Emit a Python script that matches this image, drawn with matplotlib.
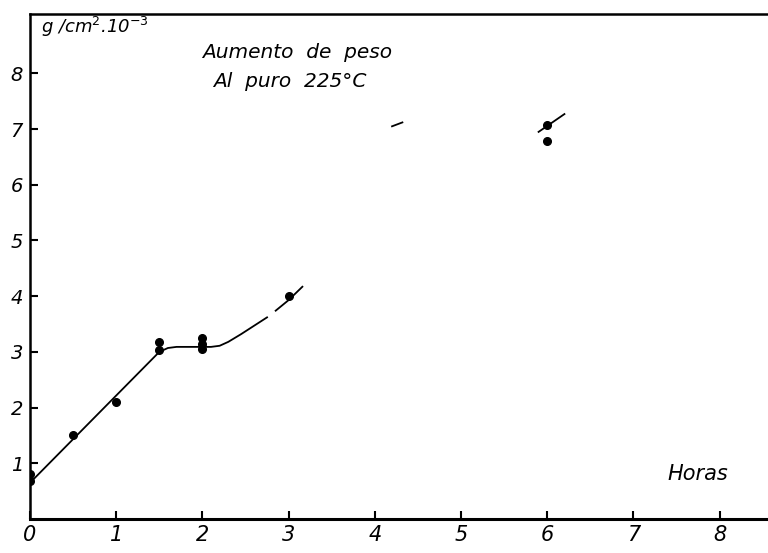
import matplotlib
matplotlib.use("Agg")
import matplotlib.pyplot as plt

# measured points (hours, g/cm2 x 10^-3)
horas = [0, 0, 0.5, 1, 1.5, 1.5, 2, 2, 2, 3, 6, 6]
peso = [0.68, 0.8, 1.5, 2.1, 3.17, 3.04, 3.25, 3.15, 3.05, 4.0, 7.07, 6.79]

# hand drawn curve
curva_x = [0, 1.5, 1.6, 1.7, 1.9, 2.1, 2.2, 2.3, 2.45, 2.75]
curva_y = [0.65, 3.0, 3.07, 3.09, 3.09, 3.09, 3.11, 3.18, 3.32, 3.62]
curva2_x = [2.85, 3.0, 3.16]
curva2_y = [3.74, 3.93, 4.17]
# faint line fragments near the top
frag1_x = [5.9, 6.2]
frag1_y = [6.95, 7.27]
frag2_x = [4.2, 4.32]
frag2_y = [7.05, 7.12]

xticks = [0, 1, 2, 3, 4, 5, 6, 7, 8]
yticks = [1, 2, 3, 4, 5, 6, 7, 8]

fig = plt.figure(figsize=(7.68, 5.53), dpi=100)
ax = fig.add_axes([30/768, 34/553, 738/768, 505/553])
ax.set_xlim(0, 738/86.2)
ax.set_ylim(0, 505/55.7)

fnt = dict(family="DejaVu Sans", style="italic", color="black")

ax.plot(curva_x, curva_y, color="black", lw=1.3)
ax.plot(curva2_x, curva2_y, color="black", lw=1.3)
ax.plot(frag1_x, frag1_y, color="black", lw=1.3)
ax.plot(frag2_x, frag2_y, color="black", lw=1.3)
ax.plot(horas, peso, "o", color="black", ms=5.5)

ax.spines["right"].set_visible(False)
ax.spines["left"].set_linewidth(1.8)
ax.spines["bottom"].set_linewidth(2.2)
ax.spines["top"].set_linewidth(1.8)

ax.set_xticks(xticks)
ax.set_xticklabels([str(t) for t in xticks], fontsize=15, **fnt)
ax.set_yticks(yticks)
ax.set_yticklabels([str(t) for t in yticks], fontsize=14, **fnt)
ax.tick_params(axis="both", direction="in", length=6, width=1.5, colors="black")
ax.tick_params(axis="x", pad=4)
ax.tick_params(axis="y", pad=5)

ax.text(0.13, 8.72, r"g /cm$^{2}$.10$^{-3}$", fontsize=13, **fnt)
ax.text(2.0, 8.28, "Aumento  de  peso", fontsize=14.5, **fnt)
ax.text(2.12, 7.76, "Al  puro  225°C", fontsize=14.5, **fnt)
ax.text(7.4, 0.7, "Horas", fontsize=15, **fnt)

fig.savefig("out.png", dpi=100)
